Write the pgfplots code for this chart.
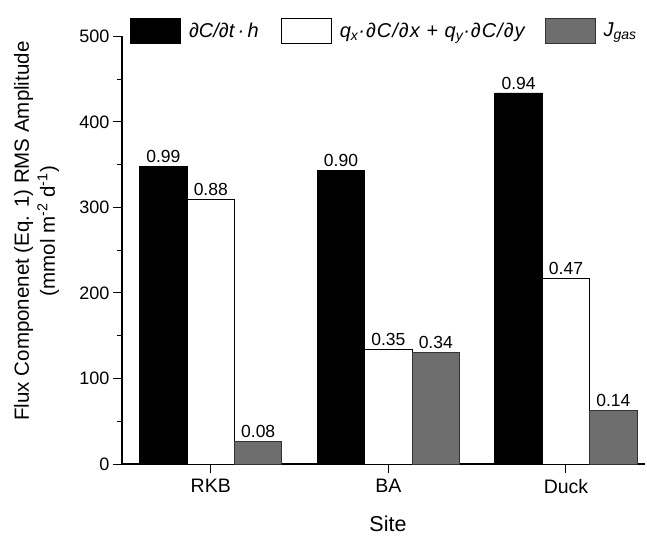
\documentclass[border=0pt]{standalone}
\usepackage{pgfplots}
\pgfplotsset{compat=1.18}
\usepackage{fontspec}
\setmainfont{Liberation Sans}
\definecolor{jgas}{HTML}{6E6E6E}
\begin{document}
\begin{tikzpicture}
\begin{axis}[
  scale only axis, width=523pt, height=427.5pt,
  xmin=-0.5, xmax=2.445, ymin=0, ymax=500,
  axis x line*=bottom, axis y line*=left,
  axis line style={line width=1.2pt,-},
  ytick={0,100,...,500}, minor ytick={50,150,...,450},
  xtick={0,1,2}, xticklabels={RKB,BA,Duck},
  tick align=outside, major tick length=9pt, minor tick length=5pt,
  tick style={black,line width=1pt},
  /pgf/number format/assume math mode=true,
  yticklabel style={font=\fontsize{18}{22}\selectfont},
  xticklabel style={font=\fontsize{19.5}{23}\selectfont, yshift=-3pt},
  ybar=0pt, bar width=47.4pt,
  nodes near coords, point meta=explicit symbolic,
  every node near coord/.append style={font=\fontsize{17.5}{21}\selectfont, black},
  ylabel={Flux Componenet (Eq. 1) RMS Amplitude\\(mmol m\textsuperscript{-2} d\textsuperscript{-1})},
  ylabel style={align=center, font=\fontsize{20.5}{26}\selectfont, at={(axis description cs:-0.1635,0.545)}, anchor=center},
  xlabel={Site},
  xlabel style={font=\fontsize{21.5}{25}\selectfont, at={(axis description cs:0.5086,-0.159)}, anchor=base},
  legend columns=3,
  legend image code/.code={\draw[#1,line width=0.8pt] (0pt,-12.5pt) rectangle (50pt,12.5pt);},
  legend style={draw=none, fill=none, inner xsep=0pt, at={(axis description cs:0.0153,1.014)}, anchor=west,
    font=\fontsize{20}{24}\selectfont,
    /tikz/every even column/.append style={column sep=16pt}},
]
\addplot[fill=black, draw=black, line width=0.8pt] coordinates {(0,348) [0.99] (1,343.5) [0.90] (2,434) [0.94]};
\addplot[fill=white, draw=black, line width=0.8pt] coordinates {(0,310) [0.88] (1,134) [0.35] (2,217.5) [0.47]};
\addplot[fill=jgas, draw=black!80, line width=0.8pt] coordinates {(0,26) [0.08] (1,130) [0.34] (2,63) [0.14]};
\legend{\makebox[80pt][l]{\hspace{6pt}\textit{∂C/∂t\,·\,h}}, \makebox[193pt][l]{\hspace{6pt}\textit{\addfontfeatures{LetterSpace=5}q\textsubscript{x}·∂C/∂x + q\textsubscript{y}·∂C/∂y}}, \hspace{6pt}\textit{J\textsubscript{gas}}}
\coordinate (bl) at (rel axis cs:0,0);
\coordinate (tr) at (rel axis cs:1,1);
\end{axis}
\pgfresetboundingbox
\path ([shift={(-122pt,-71pt)}]bl) rectangle ([shift={(2pt,36.5pt)}]tr);
\end{tikzpicture}
\end{document}
